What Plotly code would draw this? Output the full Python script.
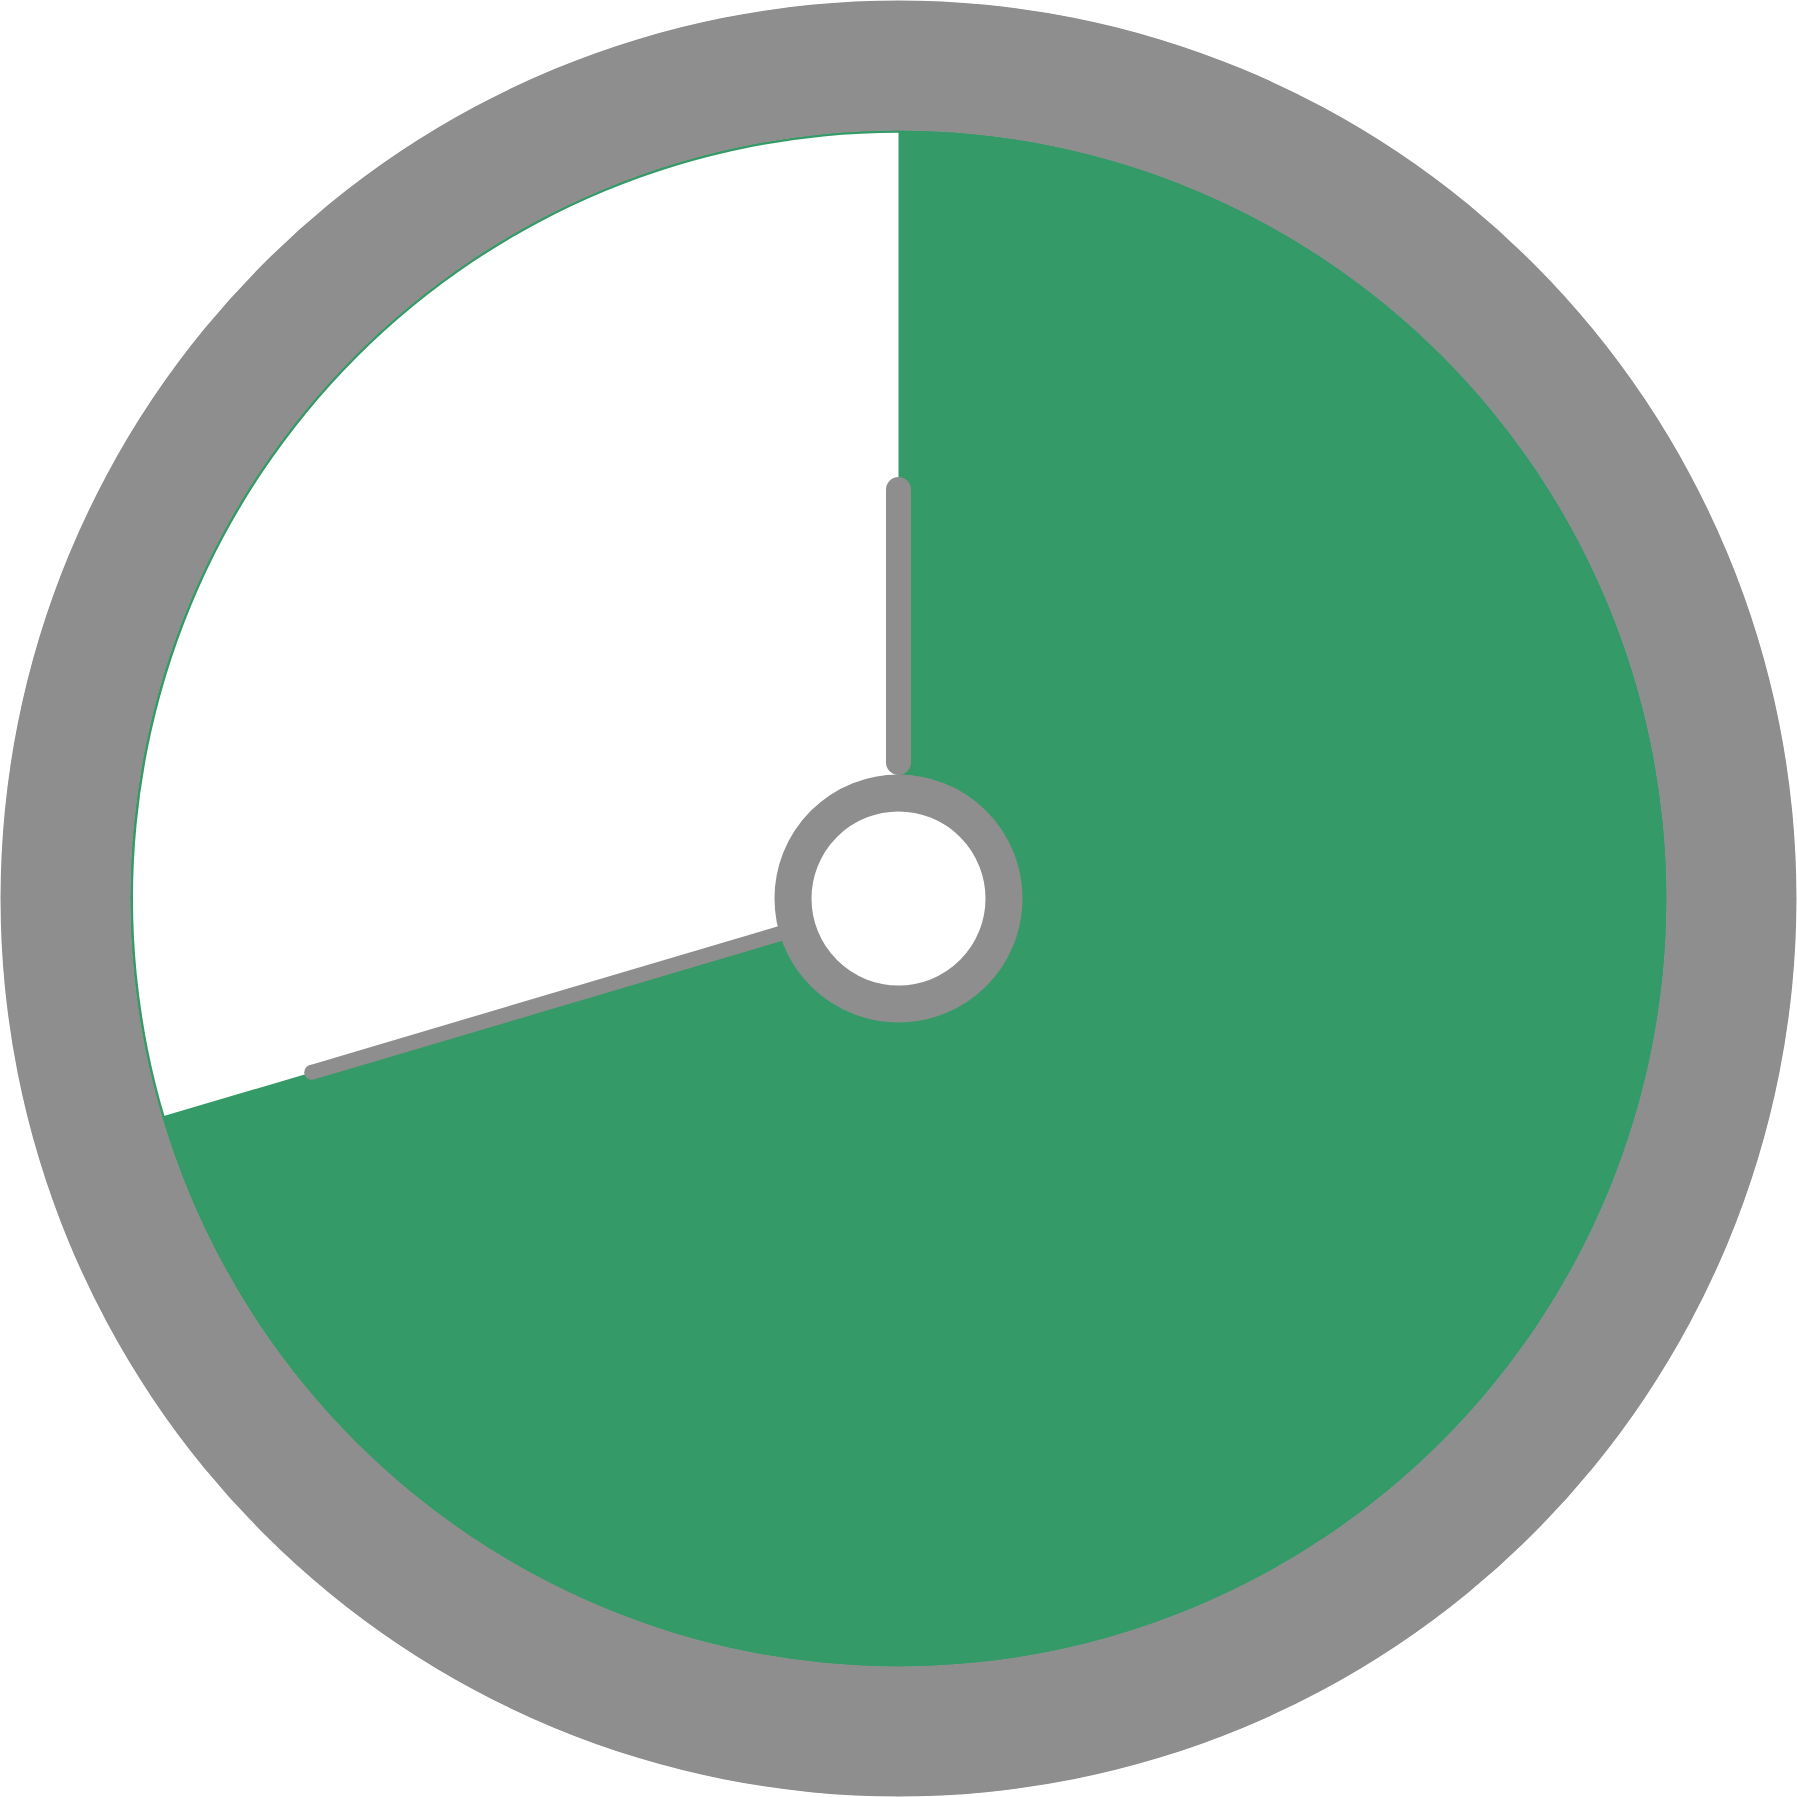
import plotly.graph_objects as go

# timer state (minutes)
dial_total = [60]
elapsed = [42.25]
hand_names = ["hour", "minute"]
hand_minutes = [0, 42.25]

# geometry, in dial units (1 unit = 1 px at 1797x1797)
R_MAX = 898.5
RING_IN, RING_OUT = 768, 898
HUB_IN, HUB_OUT = 87, 124
HAND_SPAN = {"hour": (136, 409), "minute": (124, 612)}
HAND_WIDTH = {"hour": 25, "minute": 15}

GRAY = "#8e8e8e"
GREEN = "#349a68"

deg = elapsed[0] / dial_total[0] * 360


def full_ring(base, thick, color):
    return go.Barpolar(
        r=[thick], base=[base], theta=[180], width=[360],
        marker=dict(color=color, line=dict(width=0)),
        hoverinfo="skip",
    )


fig = go.Figure()

# elapsed sector
fig.add_trace(go.Barpolar(
    r=[RING_IN], theta=[deg / 2], width=[deg],
    marker=dict(color=GREEN, line=dict(width=0)),
    hoverinfo="skip",
))
fig.add_trace(full_ring(RING_IN - 2.5, 3, GREEN))      # thin rim
fig.add_trace(full_ring(RING_IN, RING_OUT - RING_IN, GRAY))  # outer ring

# hands
for name, m in zip(hand_names, hand_minutes):
    a = m / dial_total[0] * 360
    r0, r1 = HAND_SPAN[name]
    fig.add_trace(go.Scatterpolar(
        r=[r0, r1], theta=[a, a], mode="lines+markers",
        line=dict(color=GRAY, width=HAND_WIDTH[name]),
        marker=dict(color=GRAY, size=HAND_WIDTH[name], line=dict(width=0)),
        hoverinfo="skip",
    ))

# hub: white disc with a gray rim, drawn as one marker
hub_w = HUB_OUT - HUB_IN
fig.add_trace(go.Scatterpolar(
    r=[0], theta=[0], mode="markers",
    marker=dict(size=2 * HUB_IN + hub_w, color="white",
                line=dict(color=GRAY, width=hub_w)),
    hoverinfo="skip",
))

fig.update_layout(
    width=1797, height=1797,
    margin=dict(l=0, r=0, t=0, b=0),
    showlegend=False,
    paper_bgcolor="white",
    polar=dict(
        domain=dict(x=[0, 1], y=[0, 1]),
        bgcolor="white",
        hole=0,
        barmode="overlay",
        radialaxis=dict(visible=False, range=[0, R_MAX], showgrid=False),
        angularaxis=dict(visible=False, rotation=90, direction="clockwise", showgrid=False),
    ),
)

fig.write_html("out.html", config={"displayModeBar": False},
               post_script="document.body.style.margin='0';")
